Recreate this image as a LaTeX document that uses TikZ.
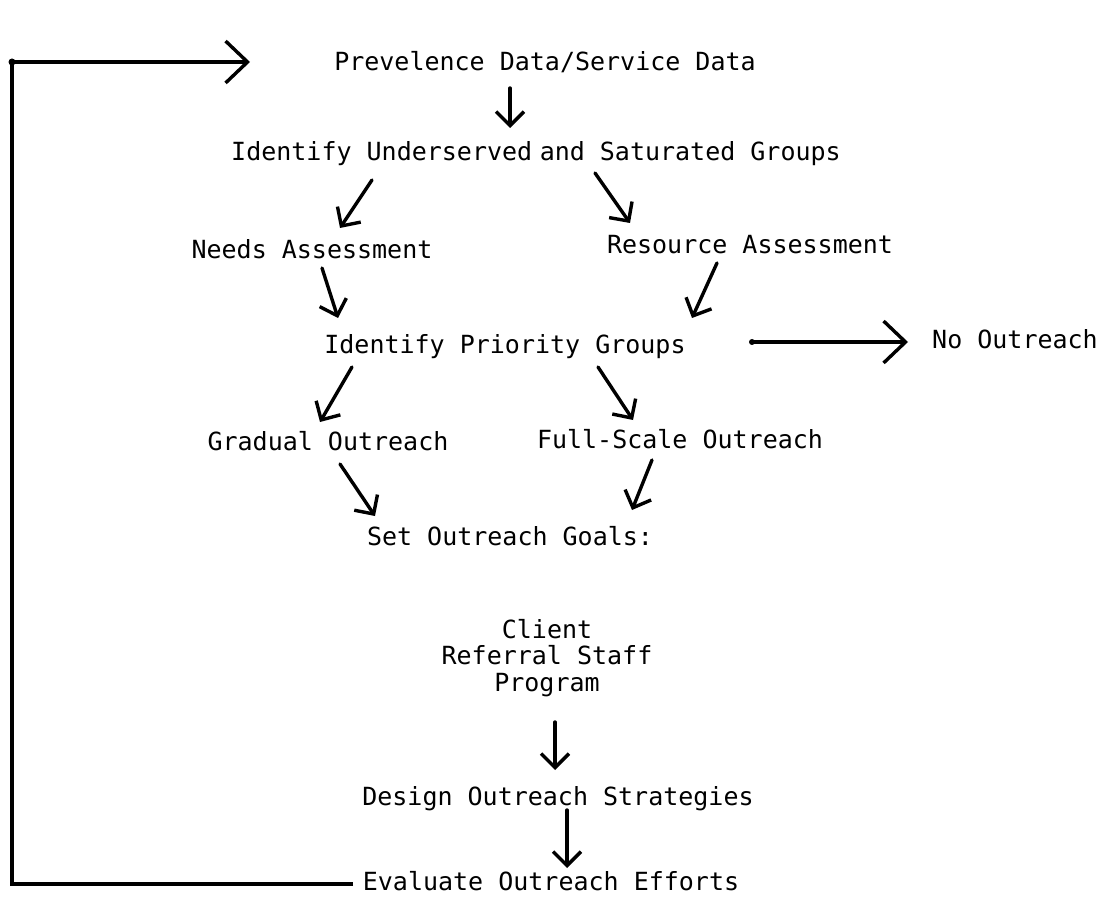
\documentclass[tikz,border=0pt]{standalone}
\usepackage{fontspec}
\setmonofont{DejaVu Sans Mono}
\usetikzlibrary{arrows.meta,calc}
\begin{document}
\begin{tikzpicture}[x=1pt,y=-1pt,
  lbl/.style={font=\ttfamily\fontsize{25}{28}\selectfont, inner sep=1pt, text height=18pt, text depth=5pt},
  arr/.style={line width=3.4pt, line cap=round, -{Straight Barb[length=14pt,width=28pt,line width=3.4pt]}},
  bigarr/.style={line width=3.2pt, -{Straight Barb[length=22pt,width=42pt,line width=3.4pt]}},
  loopline/.style={line width=3.4pt}]
\useasboundingbox (0,0) rectangle (1109,901);
\node[lbl] (prev) at (545,64) {Prevelence Data/Service Data};
\node[lbl] (ident) at (536,154) {Identify Underserved\hspace{-0.3em} and Saturated Groups};
\node[lbl] (needs) at (312,252) {Needs Assessment};
\node[lbl] (res) at (750,247) {Resource Assessment};
\node[lbl] (prio) at (505,347) {Identify Priority Groups};
\node[lbl] (noout) at (1015,342) {No Outreach};
\node[lbl] (grad) at (328,444) {Gradual Outreach};
\node[lbl] (full) at (680,442) {Full-Scale Outreach};
\node[lbl] (goals) at (510,539) {Set Outreach Goals:};
\node[lbl, align=center, text height=, text depth=, font=\ttfamily\fontsize{25}{26.5}\selectfont] (cat) at (547,658) {Client\\Referral Staff\\Program};
\node[lbl] (design) at (558,799) {Design Outreach Strategies};
\node[lbl] (eval) at (551,884) {Evaluate Outreach Efforts};

\draw[arr] ($(prev)+(-35,24)$) -- ($(ident)+(-26,-26)$);
\draw[arr] ($(ident)+(-164,26)$) -- ($(needs)+(28,-24)$);
\draw[arr] ($(ident)+(59,19)$) -- ($(res)+(-120,-24)$);
\draw[arr] ($(needs)+(10,16)$) -- ($(prio)+(-167,-29)$);
\draw[arr] ($(res)+(-33,16)$) -- ($(prio)+(187,-29)$);
\fill ($(prio)+(247,-5)$) circle (3pt);
\draw[bigarr] ($(prio)+(247,-5)$) -- ($(noout)+(-107,0)$);
\draw[arr] ($(prio)+(-153,20)$) -- ($(grad)+(-8,-22)$);
\draw[arr] ($(prio)+(93,20)$) -- ($(full)+(-47,-22)$);
\draw[arr] ($(grad)+(12,20)$) -- ($(goals)+(-135,-23)$);
\draw[arr] ($(full)+(-28,18)$) -- ($(goals)+(122,-29)$);
\draw[arr] ($(cat)+(8,64)$) -- ($(design)+(-3,-29)$);
\draw[arr] ($(design)+(9,11)$) -- ($(eval)+(16,-16)$);
\draw[loopline] ($(eval)+(-198,0)$) -| ($(prev)+(-533,-2)$);
\fill ($(prev)+(-533,-2)$) circle (3.5pt);
\draw[bigarr] ($(prev)+(-533,-2)$) -- ($(prev)+(-295,-2)$);
\end{tikzpicture}
\end{document}
